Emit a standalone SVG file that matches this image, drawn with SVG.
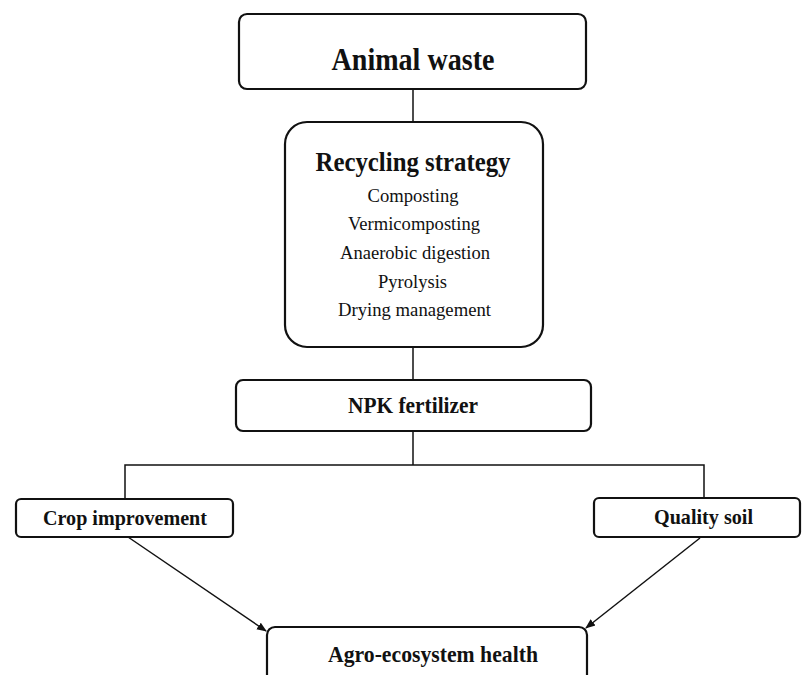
<svg xmlns="http://www.w3.org/2000/svg" width="802" height="675" viewBox="0 0 802 675">
<style>
.box{fill:#fff;stroke:#111;stroke-width:2.2}
.b{font-family:"Liberation Serif","Times New Roman",serif;font-weight:bold;fill:#111;text-anchor:middle}
.r{font-family:"Liberation Serif","Times New Roman",serif;fill:#111;text-anchor:middle;font-size:19px}
.ln{fill:none;stroke:#111;stroke-width:1.5}
</style>
<defs>
<marker id="ah" markerWidth="10" markerHeight="10" refX="9" refY="5" orient="auto" markerUnits="userSpaceOnUse" viewBox="0 0 10 10">
<path d="M0,1 L10,5 L0,9 z" fill="#111"/>
</marker>
</defs>
<rect width="802" height="675" fill="#fff"/>
<g id="connectors">
<line class="ln" x1="413" y1="89" x2="413" y2="122"/>
<line class="ln" x1="413" y1="347" x2="413" y2="380"/>
<polyline class="ln" points="413,431 413,465"/>
<polyline class="ln" points="125,499 125,465 704,465 704,498"/>
<line class="ln" x1="128" y1="537" x2="266" y2="631" marker-end="url(#ah)"/>
<line class="ln" x1="700" y1="538" x2="586" y2="628" marker-end="url(#ah)"/>
</g>
<g id="animal-waste">
<rect class="box" x="239" y="14" width="347" height="75" rx="8"/>
<text class="b" x="413" y="70" font-size="31" textLength="163" lengthAdjust="spacingAndGlyphs">Animal waste</text>
</g>
<g id="recycling-strategy">
<rect class="box" x="285" y="122" width="258" height="225" rx="22"/>
<text class="b" x="413" y="171" font-size="28" textLength="195" lengthAdjust="spacingAndGlyphs">Recycling strategy</text>
<text class="r" x="413" y="202" textLength="91" lengthAdjust="spacingAndGlyphs">Composting</text>
<text class="r" x="414" y="230" textLength="132" lengthAdjust="spacingAndGlyphs">Vermicomposting</text>
<text class="r" x="415" y="259" textLength="150" lengthAdjust="spacingAndGlyphs">Anaerobic digestion</text>
<text class="r" x="412.5" y="288" textLength="69" lengthAdjust="spacingAndGlyphs">Pyrolysis</text>
<text class="r" x="414.5" y="316" textLength="153" lengthAdjust="spacingAndGlyphs">Drying management</text>
</g>
<g id="npk-fertilizer">
<rect class="box" x="236" y="380" width="355" height="51" rx="7"/>
<text class="b" x="413" y="413" font-size="24" textLength="130" lengthAdjust="spacingAndGlyphs">NPK fertilizer</text>
</g>
<g id="crop-improvement">
<rect class="box" x="16" y="499" width="217" height="38" rx="5"/>
<text class="b" x="125" y="525" font-size="22" textLength="164" lengthAdjust="spacingAndGlyphs">Crop improvement</text>
</g>
<g id="quality-soil">
<rect class="box" x="594" y="498" width="206" height="39" rx="5"/>
<text class="b" x="703.5" y="524" font-size="22" textLength="99" lengthAdjust="spacingAndGlyphs">Quality soil</text>
</g>
<g id="agro-ecosystem-health">
<rect class="box" x="267" y="627" width="320" height="60" rx="8"/>
<text class="b" x="433" y="662" font-size="24" textLength="210" lengthAdjust="spacingAndGlyphs">Agro-ecosystem health</text>
</g>
</svg>
